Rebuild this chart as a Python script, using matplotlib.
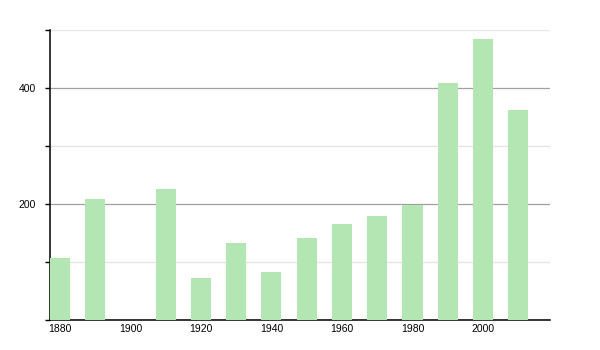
import matplotlib.pyplot as plt
from matplotlib.ticker import MultipleLocator, FuncFormatter

# Population by census year (1900 has no data)
years = [1880, 1890, 1910, 1920, 1930, 1940, 1950, 1960, 1970, 1980, 1990, 2000, 2010]
population = [107, 209, 225, 72, 133, 83, 141, 166, 180, 199, 409, 484, 362]

plt.rcParams['font.family'] = ['Liberation Sans', 'DejaVu Sans']

fig = plt.figure(figsize=(6, 3.5), dpi=100)
ax = fig.add_axes([50 / 600, 30 / 350, 500 / 600, 290 / 350])

ax.bar(years, population, width=5.7, color='#b3e6b3', zorder=3)

ax.set_xlim(1877.2, 2019)
ax.set_ylim(0, 500)

ax.yaxis.set_major_locator(MultipleLocator(200))
ax.yaxis.set_minor_locator(MultipleLocator(100))
ax.yaxis.set_major_formatter(FuncFormatter(lambda v, p: '' if v == 0 else f'{v:.0f}'))
ax.xaxis.set_major_locator(MultipleLocator(20))

ax.grid(axis='y', which='major', color='#a0a0a0', linewidth=0.9, zorder=1)
ax.grid(axis='y', which='minor', color='#e4e4e4', linewidth=0.9, zorder=1)

for side in ['top', 'right']:
    ax.spines[side].set_visible(False)
ax.spines['left'].set_linewidth(1.1)
ax.spines['bottom'].set_linewidth(1.1)

ax.tick_params(axis='y', which='both', length=3.5, width=1, labelsize=7.5, pad=6.5)
ax.tick_params(axis='x', length=0, labelsize=7.5, pad=3)

fig.savefig('out.png', dpi=100)
